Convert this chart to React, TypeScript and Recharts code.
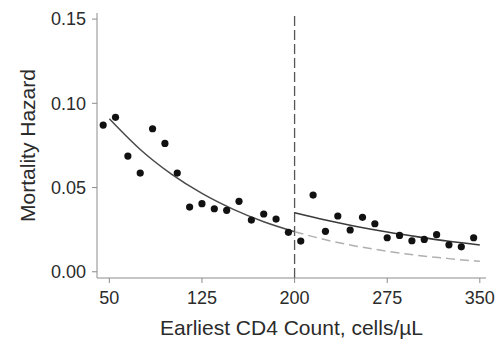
import {
  ComposedChart,
  Line,
  Scatter,
  XAxis,
  YAxis,
  ReferenceLine,
} from "recharts";

// observed hazard by earliest CD4 count (binned)
const cd4 = [
  45, 55, 65, 75, 85, 95, 105, 115, 125, 135, 145, 155, 165, 175, 185, 195,
  205, 215, 225, 235, 245, 255, 265, 275, 285, 295, 305, 315, 325, 335, 345,
];
const hazard = [
  0.0871, 0.0917, 0.0687, 0.0586, 0.0849, 0.0762, 0.0586, 0.0384, 0.0404,
  0.0374, 0.0365, 0.0418, 0.0307, 0.0343, 0.0313, 0.0234, 0.0182, 0.0455,
  0.024, 0.0331, 0.0248, 0.0323, 0.0285, 0.0202, 0.0216, 0.0184, 0.0192,
  0.022, 0.016, 0.0148, 0.0202,
];

// fitted curves
const fitXLow = [50, 75, 100, 125, 150, 175, 200];
const fitLow = [0.0908, 0.0726, 0.0581, 0.0465, 0.0372, 0.0297, 0.0238];
const fitXHigh = [200, 225, 250, 275, 300, 325, 350];
const fitHigh = [0.035, 0.0307, 0.0269, 0.0236, 0.0207, 0.0181, 0.0159];
const fitLowExtended = [0.0238, 0.019, 0.0152, 0.0122, 0.0097, 0.0078, 0.0062];

const xTicks = [50, 125, 200, 275, 350];
const yTicks = [0, 0.05, 0.1, 0.15];

const points = cd4.map((x, i) => ({ x, y: hazard[i] }));
const lowData = fitXLow.map((x, i) => ({ x, y: fitLow[i] }));
const highData = fitXHigh.map((x, i) => ({ x, y: fitHigh[i] }));
const extData = fitXHigh.map((x, i) => ({ x, y: fitLowExtended[i] }));

const FONT = "'Liberation Sans', Arial, Helvetica, sans-serif";
const AXIS = "#8c8c8c";

export default function App() {
  return (
    <div style={{ position: "absolute", left: 0, top: 0, background: "#fff" }}>
      <ComposedChart
        width={500}
        height={341}
        margin={{ top: 13, right: 14, bottom: 0, left: 0 }}
        style={{ fontFamily: FONT }}
      >
        <XAxis
          dataKey="x"
          type="number"
          domain={[40, 355]}
          ticks={xTicks}
          height={63}
          stroke={AXIS}
          tickSize={5}
          tickMargin={8}
          tick={{ fill: "#2b2b2b", fontSize: 18 }}
          label={{
            value: "Earliest CD4 Count, cells/\u00b5L",
            position: "insideBottom",
            offset: 6,
            fill: "#2b2b2b",
            fontSize: 21,
          }}
        />
        <YAxis
          dataKey="y"
          type="number"
          domain={[-0.0037, 0.1536]}
          ticks={yTicks}
          tickFormatter={(v: number) => v.toFixed(2)}
          width={97}
          stroke={AXIS}
          tickSize={5}
          tickMargin={6}
          tick={{ fill: "#2b2b2b", fontSize: 18 }}
          label={{
            value: "Mortality Hazard",
            angle: -90,
            position: "center",
            dx: -21,
            fill: "#2b2b2b",
            fontSize: 21,
          }}
        />
        <ReferenceLine
          x={200}
          stroke="#555"
          strokeWidth={1.3}
          strokeDasharray="10 4"
        />
        <Line
          data={extData}
          dataKey="y"
          type="monotone"
          stroke="#b0b0b0"
          strokeWidth={1.5}
          strokeDasharray="9 5"
          dot={false}
          isAnimationActive={false}
        />
        <Line
          data={lowData}
          dataKey="y"
          type="monotone"
          stroke="#4a4a4a"
          strokeWidth={1.5}
          dot={false}
          isAnimationActive={false}
        />
        <Line
          data={highData}
          dataKey="y"
          type="monotone"
          stroke="#3a3a3a"
          strokeWidth={1.6}
          dot={false}
          isAnimationActive={false}
        />
        <Scatter
          data={points}
          dataKey="y"
          fill="#111"
          shape={(p: any) => <circle cx={p.cx} cy={p.cy} r={3.6} fill="#111" />}
          isAnimationActive={false}
        />
      </ComposedChart>
    </div>
  );
}
